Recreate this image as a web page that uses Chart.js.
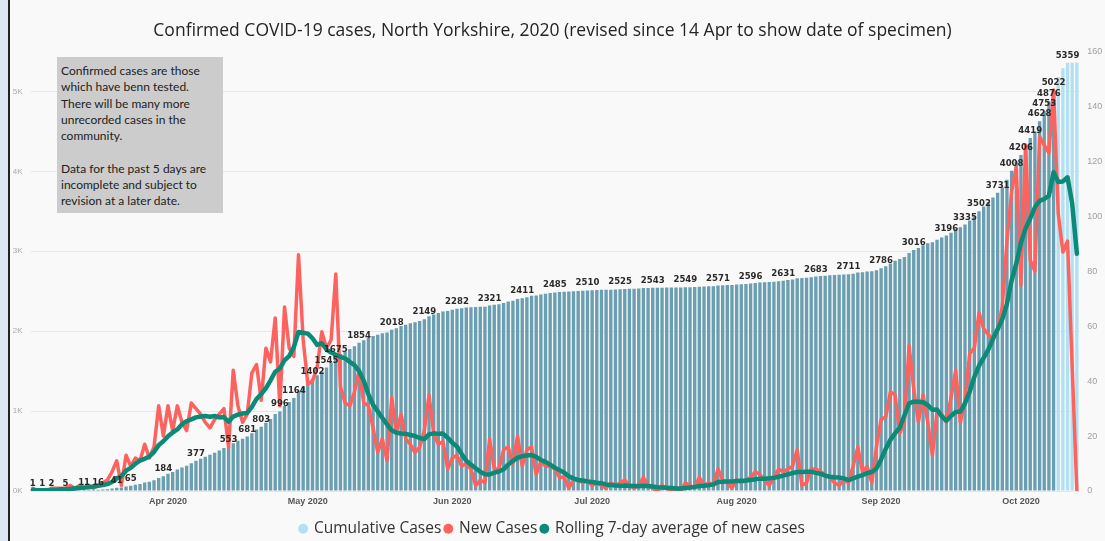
<!DOCTYPE html>
<html>
<head>
<meta charset="utf-8">
<script src="https://cdn.jsdelivr.net/npm/chart.js@4.4.1/dist/chart.umd.min.js"></script>
<style>
  html, body { margin: 0; padding: 0; }
  body { width: 1105px; height: 541px; background: #f9f9f9; position: relative; overflow: hidden; }
  #edge { position: absolute; left: 0; top: 0; width: 8px; height: 541px; background: #dde7f3; border-right: 2px solid #222; }
  #chart { position: absolute; left: 0; top: 0; }
  #note {
    position: absolute; left: 57px; top: 57px; width: 162px; height: 150px;
    background: #cccccc; padding: 6px 0 0 4px; color: #222;
    font: 12px Lato, "Liberation Sans", sans-serif; line-height: 16.3px; white-space: nowrap;
  }
</style>
</head>
<body>
<div id="edge"></div>
<canvas id="chart" width="1105" height="541"></canvas>
<div id="note">Confirmed cases are those<br>which have benn tested.<br>There will be many more<br>unrecorded cases in the<br>community.<br><br>Data for the past 5 days are<br>incomplete and subject to<br>revision at a later date.</div>
<script>
// daily series, one value per day from 3 Mar 2020
const startDay = "2020-03-03";
const dayCount = 225;

const cumulativeCases = [
  1, 1, 1, 1, 2, 3, 4, 5, 7, 8,
  10, 11, 13, 14, 16, 19, 23, 30, 41, 43,
  56, 65, 77, 88, 105, 117, 133, 164, 184, 215,
  237, 268, 293, 315, 347, 377, 405, 430, 453, 479,
  507, 537, 553, 597, 628, 653, 681, 724, 770, 803,
  855, 902, 965, 996, 1063, 1115, 1164, 1250, 1305, 1344,
  1402, 1447, 1495, 1545, 1606, 1675, 1713, 1745, 1776, 1812,
  1854, 1886, 1917, 1940, 1954, 1973, 1984, 2018, 2037, 2064,
  2082, 2098, 2111, 2127, 2149, 2186, 2208, 2226, 2245, 2254,
  2267, 2282, 2288, 2295, 2301, 2302, 2305, 2307, 2321, 2330,
  2338, 2353, 2370, 2381, 2402, 2411, 2426, 2442, 2448, 2459,
  2468, 2477, 2485, 2490, 2495, 2496, 2500, 2503, 2506, 2510,
  2512, 2515, 2517, 2518, 2520, 2522, 2525, 2529, 2531, 2532,
  2534, 2539, 2541, 2543, 2543, 2545, 2546, 2546, 2547, 2547,
  2549, 2551, 2552, 2557, 2559, 2561, 2563, 2571, 2575, 2578,
  2579, 2583, 2586, 2590, 2596, 2603, 2608, 2612, 2614, 2618,
  2625, 2631, 2639, 2648, 2663, 2665, 2668, 2675, 2683, 2690,
  2695, 2700, 2703, 2705, 2708, 2711, 2719, 2733, 2739, 2747,
  2750, 2764, 2786, 2812, 2848, 2882, 2903, 2927, 2979, 3016,
  3041, 3076, 3101, 3114, 3143, 3171, 3196, 3231, 3276, 3301,
  3335, 3385, 3437, 3502, 3561, 3618, 3672, 3731, 3800, 3895,
  4008, 4125, 4206, 4332, 4419, 4499, 4628, 4753, 4876, 5022,
  5180, 5290, 5359, 5359, 5359
];

const newCases = [
  1, 0, 0, 0, 1, 1, 1, 1, 2, 1,
  2, 1, 2, 1, 2, 3, 4, 7, 11, 2,
  13, 9, 12, 11, 17, 12, 16, 31, 20, 31,
  22, 31, 25, 22, 32, 30, 28, 25, 23, 26,
  28, 30, 16, 44, 31, 25, 28, 43, 46, 33,
  52, 47, 63, 31, 67, 52, 49, 86, 55, 39,
  40, 45, 58, 52, 55, 79, 38, 32, 31, 36,
  44, 32, 31, 23, 14, 19, 11, 34, 21, 28,
  19, 17, 14, 16, 22, 35, 21, 17, 18, 8,
  12, 13, 9, 10, 8, 2, 4, 3, 19, 8,
  8, 15, 16, 10, 20, 9, 15, 16, 6, 11,
  9, 9, 8, 5, 5, 1, 4, 4, 3, 4,
  2, 3, 2, 1, 3, 2, 3, 4, 2, 1,
  2, 5, 2, 1, 0, 2, 1, 0, 1, 0,
  3, 2, 1, 5, 2, 3, 2, 8, 4, 3,
  1, 4, 3, 4, 5, 7, 6, 4, 2, 5,
  8, 7, 8, 9, 15, 2, 3, 8, 8, 7,
  6, 5, 3, 2, 4, 3, 9, 16, 7, 9,
  3, 16, 26, 27, 36, 35, 21, 25, 53, 37,
  25, 35, 25, 13, 29, 28, 25, 34, 44, 25,
  33, 50, 52, 65, 59, 57, 55, 59, 67, 91,
  109, 118, 75, 126, 84, 80, 129, 126, 123, 146,
  101, 87, 91, 45, 0
];

const rollingAverage = [
  0.4, 0.3, 0.3, 0.3, 0.4, 0.4, 0.6, 0.6, 0.7, 0.9,
  1.1, 1.3, 1.4, 1.6, 1.9, 2.2, 2.5, 3.3, 4.6, 5.4,
  7.4, 8.4, 9.9, 11.1, 11.7, 12.6, 14.2, 16.7, 18.1, 19.9,
  21.3, 22.4, 24.3, 25.4, 26.1, 26.8, 27.1, 27.3, 27.0, 27.3,
  26.8, 26.9, 25.2, 27.1, 27.8, 28.2, 28.4, 30.6, 33.5, 35.3,
  37.4, 40.3, 43.4, 44.6, 47.6, 49.1, 52.4, 57.9, 57.6, 57.3,
  55.6, 53.2, 53.8, 51.5, 50.4, 49.6, 48.8, 48.3, 47.0, 45.8,
  43.7, 40.1, 35.2, 31.4, 29.0, 26.6, 24.2, 22.1, 21.2, 20.9,
  20.8, 20.4, 20.0, 19.3, 18.9, 20.6, 21.0, 20.8, 20.9, 19.4,
  17.6, 16.2, 13.5, 11.0, 9.6, 8.3, 7.0, 6.1, 6.0, 6.7,
  7.1, 7.9, 9.6, 11.0, 12.1, 12.7, 12.9, 13.1, 12.4, 11.3,
  10.6, 9.6, 8.5, 7.6, 6.7, 5.3, 4.6, 4.0, 3.8, 3.5,
  3.3, 3.0, 2.8, 2.4, 2.2, 2.0, 1.9, 2.0, 1.9, 1.8,
  1.8, 1.9, 1.8, 1.6, 1.4, 1.3, 1.2, 1.1, 0.9, 0.9,
  1.1, 1.3, 1.5, 1.8, 1.9, 2.1, 2.4, 3.3, 3.4, 3.5,
  3.5, 3.6, 3.7, 3.8, 4.0, 4.3, 4.5, 4.5, 4.6, 4.8,
  5.2, 5.6, 6.1, 6.5, 6.9, 6.9, 7.0, 7.0, 6.6, 6.3,
  5.6, 5.2, 5.0, 4.9, 4.6, 4.0, 4.6, 5.2, 5.8, 6.5,
  6.9, 8.2, 11.5, 15.4, 18.6, 21.0, 23.0, 27.5, 31.9, 32.5,
  32.5, 32.3, 31.3, 29.6, 29.7, 27.2, 25.6, 27.3, 28.8, 28.9,
  31.9, 36.1, 41.5, 45.6, 48.5, 51.5, 55.4, 58.9, 62.5, 68.1,
  76.7, 82.8, 90.4, 95.6, 99.2, 103.3, 105.6, 106.3, 107.5, 116.1,
  112.5, 112.7, 114.2, 104.6, 86.4
];

// bars that carry a value label (day index)
const labelledDays = [0, 2, 4, 7, 11, 14, 18, 21, 28, 35, 42, 46, 49, 53, 56, 60, 63, 65, 70, 77,
  84, 91, 98, 105, 112, 119, 126, 133, 140, 147, 154, 161, 168, 175, 182, 189, 196, 200, 203, 207,
  210, 212, 214, 216, 217, 218, 219, 222];

const incompleteDays = 5;

const tickDates = ["2020-04-01", "2020-05-01", "2020-06-01", "2020-07-01", "2020-08-01", "2020-09-01", "2020-10-01"];
const tickLabels = ["Apr 2020", "May 2020", "Jun 2020", "Jul 2020", "Aug 2020", "Sep 2020", "Oct 2020"];
const leftTicks = [0, 1000, 2000, 3000, 4000, 5000];

const days = [];
for (let i = 0; i < dayCount; i++) {
  const d = new Date(startDay + "T00:00:00Z");
  d.setUTCDate(d.getUTCDate() + i);
  days.push(d.toISOString().slice(0, 10));
}

const DARK_BAR = "#6a9eb1";
const LIGHT_BAR = "#b3e0f1";
const RED = "#fd625e";
const TEAL = "#0c8a78";

const barLabels = {
  id: "barLabels",
  afterDatasetsDraw(chart) {
    const { ctx } = chart;
    const meta = chart.getDatasetMeta(0);
    ctx.save();
    ctx.font = "bold 9.5px 'DejaVu Sans Condensed', 'DejaVu Sans'";
    ctx.fillStyle = "#2b2a29";
    ctx.textAlign = "center";
    ctx.textBaseline = "alphabetic";
    labelledDays.forEach(i => {
      const bar = meta.data[i];
      ctx.fillText(String(cumulativeCases[i]), bar.x, bar.y - 5);
    });
    ctx.restore();
  },
};

new Chart(document.getElementById("chart"), {
  data: {
    labels: days,
    datasets: [
      {
        type: "bar",
        label: "Cumulative Cases",
        data: cumulativeCases,
        yAxisID: "y",
        backgroundColor: cumulativeCases.map((v, i) => (i >= dayCount - incompleteDays ? LIGHT_BAR : DARK_BAR)),
        barPercentage: 0.72,
        categoryPercentage: 1,
        order: 3,
      },
      {
        type: "line",
        label: "New Cases",
        data: newCases,
        yAxisID: "y1",
        borderColor: RED,
        backgroundColor: RED,
        borderWidth: 3.5,
        borderJoinStyle: "round",
        borderCapStyle: "round",
        pointRadius: 0,
        tension: 0,
        order: 2,
      },
      {
        type: "line",
        label: "Rolling 7-day average of new cases",
        data: rollingAverage,
        yAxisID: "y1",
        borderColor: TEAL,
        backgroundColor: TEAL,
        borderWidth: 4.5,
        borderJoinStyle: "round",
        borderCapStyle: "round",
        pointRadius: 0,
        tension: 0,
        order: 1,
      },
    ],
  },
  options: {
    responsive: false,
    animation: false,
    layout: { padding: 0 },
    plugins: {
      tooltip: { enabled: false },
      title: {
        display: true,
        text: "Confirmed COVID-19 cases, North Yorkshire, 2020 (revised since 14 Apr to show date of specimen)",
        color: "#252423",
        font: { family: "'Open Sans'", size: 17.5, weight: "normal" },
        padding: { top: 20.5, bottom: 10 },
      },
      legend: {
        position: "bottom",
        maxHeight: 24,
        labels: {
          usePointStyle: true,
          pointStyle: "circle",
          boxWidth: 6,
          boxHeight: 7,
          padding: 4,
          color: "#333",
          font: { family: "'Open Sans'", size: 15.5 },
          sort: (a, b) => a.datasetIndex - b.datasetIndex,
          generateLabels(chart) {
            const items = Chart.defaults.plugins.legend.labels.generateLabels(chart);
            items.forEach(it => {
              if (it.datasetIndex === 0) { it.fillStyle = LIGHT_BAR; it.strokeStyle = LIGHT_BAR; }
              it.lineWidth = 0;
            });
            return items;
          },
        },
      },
    },
    scales: {
      x: {
        grid: { display: false, drawTicks: false },
        border: { display: false },
        ticks: {
          autoSkip: false,
          maxRotation: 0,
          padding: 5,
          color: "#555",
          font: { family: "'Liberation Sans'", size: 9, weight: "bold" },
          callback: (v, i) => {
            const k = tickDates.indexOf(days[i]);
            return k >= 0 ? tickLabels[k] : null;
          },
        },
        afterFit: s => { s.height = 26; },
      },
      y: {
        position: "left",
        min: 0,
        max: 5500,
        grid: { color: "#e6e6e6", drawTicks: false },
        border: { display: false },
        ticks: {
          autoSkip: false,
          padding: 8,
          color: "#aaaaaa",
          font: { family: "'Liberation Sans'", size: 8 },
          callback: v => v / 1000 + "K",
        },
        afterBuildTicks: s => { s.ticks = leftTicks.map(v => ({ value: v })); },
        afterFit: s => { s.width = 30.5; },
      },
      y1: {
        position: "right",
        min: 0,
        max: 160,
        grid: { display: false, drawTicks: false },
        border: { display: false },
        ticks: {
          autoSkip: false,
          stepSize: 20,
          padding: 8,
          color: "#a0a0a0",
          font: { family: "'Liberation Sans'", size: 9 },
        },
        afterFit: s => { s.width = 25.8; },
      },
    },
  },
  plugins: [barLabels],
});
</script>
</body>
</html>
